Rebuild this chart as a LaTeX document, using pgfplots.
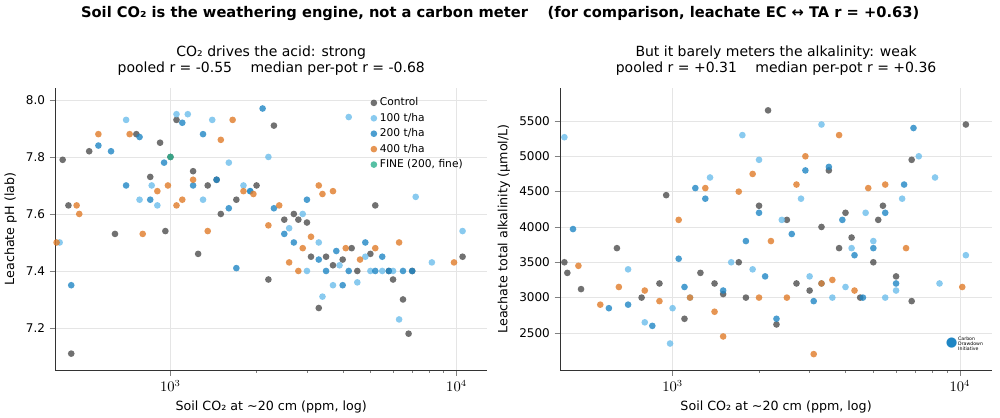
\documentclass[border=0pt]{standalone}
\usepackage{fontspec}
\setmainfont{DejaVu Sans}
\usepackage{pgfplots}
\pgfplotsset{compat=1.18}
\definecolor{cctrl}{HTML}{4D4D4D}
\definecolor{c100}{HTML}{6BBDEB}
\definecolor{c200}{HTML}{1F86C4}
\definecolor{c400}{HTML}{E07B28}
\definecolor{cfine}{HTML}{2CB08D}
\begin{document}
\begin{tikzpicture}
\path (0,0) rectangle (750pt,312pt);
\node[font=\bfseries\fontsize{11}{13}\selectfont] at (375pt,302pt) {Soil CO₂ is the weathering engine, not a carbon meter \quad (for comparison, leachate EC ↔ TA r = +0.63)};
\begin{axis}[xmode=log, scale only axis, width=324pt, height=211.5pt,
    axis lines=left, axis line style={-, black!80}, grid=major, grid style={black!10},
    tick label style={font=\fontsize{9}{10}\selectfont}, label style={font=\fontsize{9.5}{11}\selectfont},
    title style={font=\fontsize{10.5}{12}\selectfont, align=center},
    tick align=outside,
    xtick={1000,10000}, xticklabels={$10^3$,$10^4$}, xticklabel style={font=\fontsize{10.5}{12}\selectfont}, minor tick length=2pt,
    xlabel={Soil CO₂ at \textasciitilde20 cm (ppm, log)},
  at={(41.25pt,34.5pt)}, anchor=south west,
  xmin=396, xmax=12800, ymin=7.053, ymax=8.042, ytick={7.2,7.4,7.6,7.8,8.0},
  yticklabels={7.2,7.4,7.6,7.8,8.0},
  ylabel={Leachate pH (lab)},
  title={CO₂ drives the acid: strong\\pooled r = -0.55 \quad median per-pot r = -0.68},
  legend style={draw=none, fill=none, at={(0.72,0.985)}, anchor=north west, font=\fontsize{8}{9.5}\selectfont},
  legend cell align=left]
\addplot[only marks, mark=*, mark size=2.5pt, draw opacity=0, fill opacity=0.8, color=cctrl] coordinates {(420,7.79)(440,7.63)(450,7.11)(520,7.82)(640,7.53)(760,7.88)(850,7.73)(920,7.85)(960,7.54)(1000,7.80)(1050,7.93)(1200,7.75)(1350,7.70)(1500,7.60)(1700,7.65)(2000,7.70)(2300,7.91)(2500,7.58)(2800,7.58)(3000,7.57)(3300,7.27)(3500,7.45)(4000,7.44)(4500,7.40)(5000,7.46)(5200,7.63)(6000,7.37)(6500,7.30)(6800,7.18)(7000,7.40)(10500,7.45)(1250,7.46)(2200,7.37)(3700,7.42)(4300,7.48)(5800,7.40)(2700,7.60)(1450,7.72)(3100,7.45)};
\addplot[only marks, mark=*, mark size=2.5pt, draw opacity=0, fill opacity=0.8, color=c100] coordinates {(410,7.50)(700,7.93)(780,7.65)(900,7.63)(1050,7.95)(1150,7.95)(1300,7.65)(1400,7.93)(1600,7.78)(1800,7.70)(2200,7.80)(2600,7.55)(3000,7.40)(3400,7.31)(3700,7.35)(4200,7.94)(4500,7.36)(5000,7.40)(5500,7.40)(6300,7.23)(7200,7.66)(8200,7.43)(10500,7.54)(2900,7.60)(3900,7.42)(860,7.70)(1900,7.68)(3300,7.50)(4800,7.45)(6000,7.40)};
\addplot[only marks, mark=*, mark size=2.5pt, draw opacity=0, fill opacity=0.8, color=c200] coordinates {(450,7.35)(560,7.84)(620,7.82)(700,7.70)(780,7.87)(850,7.65)(950,7.78)(1100,7.92)(1300,7.88)(1450,7.72)(1700,7.41)(1900,7.68)(2100,7.97)(2300,7.62)(2700,7.50)(3000,7.65)(3300,7.44)(3800,7.47)(4200,7.40)(4800,7.50)(5200,7.40)(5800,7.40)(6500,7.40)(7000,7.40)(2500,7.53)(1600,7.62)(1200,7.70)(3500,7.40)(4000,7.35)(5500,7.45)};
\addplot[only marks, mark=*, mark size=2.5pt, draw opacity=0, fill opacity=0.8, color=c400] coordinates {(400,7.50)(470,7.63)(480,7.60)(560,7.88)(720,7.88)(800,7.53)(900,7.68)(980,7.70)(1050,7.63)(1200,7.72)(1350,7.54)(1500,7.86)(1650,7.93)(1800,7.68)(1950,7.67)(2200,7.56)(2600,7.43)(2900,7.48)(3100,7.52)(3400,7.67)(3700,7.68)(4100,7.48)(4600,7.44)(5200,7.48)(6300,7.50)(9800,7.43)(2800,7.40)(1100,7.65)(2400,7.63)(3300,7.70)};
\addplot[only marks, mark=*, mark size=2.5pt, draw opacity=0, fill opacity=0.8, color=cfine] coordinates {(1000,7.80)};
\legend{Control,100 t/ha,200 t/ha,400 t/ha,{FINE (200, fine)}}
\end{axis}
\begin{axis}[xmode=log, scale only axis, width=324pt, height=211.5pt,
    axis lines=left, axis line style={-, black!80}, grid=major, grid style={black!10},
    tick label style={font=\fontsize{9}{10}\selectfont}, label style={font=\fontsize{9.5}{11}\selectfont},
    title style={font=\fontsize{10.5}{12}\selectfont, align=center},
    tick align=outside,
    xtick={1000,10000}, xticklabels={$10^3$,$10^4$}, xticklabel style={font=\fontsize{10.5}{12}\selectfont}, minor tick length=2pt,
    xlabel={Soil CO₂ at \textasciitilde20 cm (ppm, log)},
  at={(420pt,34.5pt)}, anchor=south west,
  xmin=406, xmax=12950, ymin=1977, ymax=5967, ytick={2500,3000,3500,4000,4500,5000,5500},
  yticklabels={2500,3000,3500,4000,4500,5000,5500},
  ylabel={Leachate total alkalinity (µmol/L)},
  title={But it barely meters the alkalinity: weak\\pooled r = +0.31 \quad median per-pot r = +0.36}]
\addplot[only marks, mark=*, mark size=2.5pt, draw opacity=0, fill opacity=0.8, color=cctrl] coordinates {(420,3500)(430,3350)(480,3120)(640,3700)(780,3000)(950,4450)(1100,2700)(1250,3350)(1400,3200)(1700,3500)(2000,4300)(2150,5650)(2300,2620)(2500,4100)(3000,3100)(3300,4000)(3500,4800)(3800,3700)(4000,4200)(4500,3000)(5000,3500)(5400,4300)(6000,3300)(6800,2950)(6800,4950)(10500,5450)(1800,3000)(2700,3200)(900,3200)(1500,3050)(4200,3850)(5200,4100)};
\addplot[only marks, mark=*, mark size=2.5pt, draw opacity=0, fill opacity=0.8, color=c100] coordinates {(400,4230)(420,5270)(700,3400)(800,2650)(980,2350)(1150,3000)(1350,4700)(1600,3500)(1750,5300)(2000,4950)(2400,4100)(2800,4400)(3300,5450)(3600,3000)(4200,3700)(4700,4200)(5500,3000)(6000,3100)(6300,4400)(7200,5000)(8200,4700)(8500,3200)(10500,3600)(3000,3300)(1000,2850)(1900,3400)(4000,3150)(5000,3800)};
\addplot[only marks, mark=*, mark size=2.5pt, draw opacity=0, fill opacity=0.8, color=c200] coordinates {(450,3970)(600,2850)(700,2900)(850,2600)(1050,3550)(1200,4550)(1300,4400)(1500,3100)(1800,3800)(2000,4200)(2300,2700)(2600,3900)(2900,4800)(3300,3200)(3500,4850)(3900,4100)(4300,3600)(5000,3700)(5500,4200)(6400,4600)(6900,5400)(2100,3300)(1100,3150)(3100,2950)(4600,3000)(6000,3200)};
\addplot[only marks, mark=*, mark size=2.5pt, draw opacity=0, fill opacity=0.8, color=c400] coordinates {(400,3050)(470,3450)(560,2900)(650,3150)(800,3100)(900,2950)(1050,4100)(1150,3000)(1300,4550)(1500,2450)(1700,4500)(1900,4750)(2200,3800)(2500,3000)(2700,4600)(3100,2200)(3300,3200)(3800,5300)(4300,3100)(4800,4550)(5500,4600)(6500,3700)(10200,3150)(2900,5000)(2000,3000)(3600,3250)(1400,2800)};
\node[anchor=east, font=\fontsize{3.5}{4}\selectfont, align=left] at (rel axis cs:0.99,0.09) {\textcolor{c200}{\normalsize●}\,\begin{tabular}{@{}l@{}}Carbon\\Drawdown\\Initiative\end{tabular}};
\end{axis}
\end{tikzpicture}
\end{document}
